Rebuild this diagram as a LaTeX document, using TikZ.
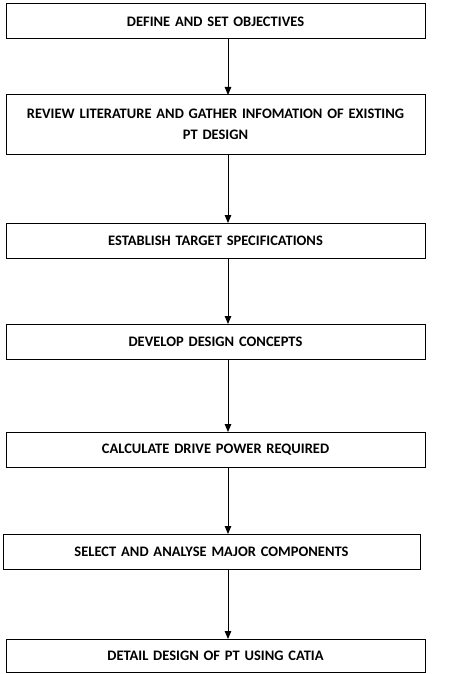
\documentclass[tikz,border=0pt]{standalone}
\usepackage{fontspec}
\setmainfont{Carlito}
\usetikzlibrary{positioning,arrows.meta}
\begin{document}
\begin{tikzpicture}[x=1pt,y=-1pt,every node/.style={inner sep=1pt}]
\tikzstyle{arrow}=[draw,line width=1pt,-{Triangle[length=8pt,width=6.5pt]}]
\tikzstyle{stage}=[draw,line width=1pt,outer sep=0pt,minimum width=419pt,minimum height=35pt,text width=405pt,align=center,font=\bfseries\fontsize{14.5}{21}\selectfont]
\useasboundingbox (0,0) rectangle (458,674);
\node[stage](n1) at (215.5,21.5){DEFINE AND SET OBJECTIVES};
\node[stage,below=56pt of n1,minimum height=59pt](n2){REVIEW LITERATURE AND GATHER INFOMATION OF EXISTING\\PT DESIGN};

\node[stage,below=69pt of n2](n3){ESTABLISH TARGET SPECIFICATIONS};
\node[stage,below=66pt of n3](n4){DEVELOP DESIGN CONCEPTS};
\node[stage,below=73pt of n4](n5){CALCULATE DRIVE POWER REQUIRED};

\node[stage,below=67pt of n5,xshift=-4pt,minimum width=417pt](n6){SELECT AND ANALYSE MAJOR COMPONENTS};
\node[stage,below=70pt of n6,xshift=4pt,minimum height=33pt](n7){DETAIL DESIGN OF PT USING CATIA};

\foreach \a/\b in {n1/n2,n2/n3,n3/n4,n4/n5,n5/n6,n6/n7}
  \draw[arrow] ([xshift=12.5pt]n1.south |- \a.south) -- ([xshift=12.5pt]n1.south |- \b.north);
\end{tikzpicture}
\end{document}
